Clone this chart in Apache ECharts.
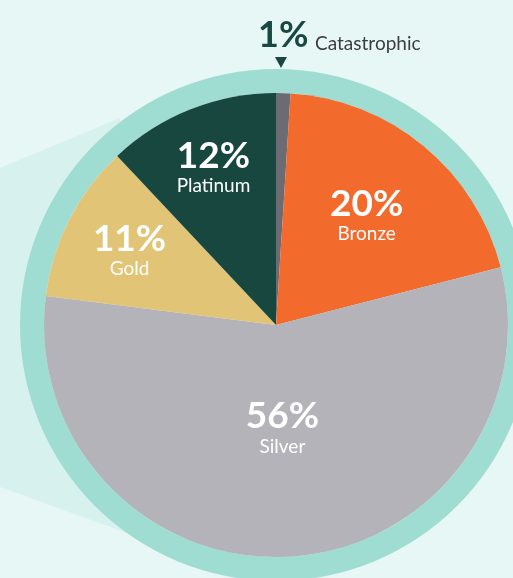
<!DOCTYPE html>
<html>
<head>
<meta charset="utf-8">
<script src="https://cdn.jsdelivr.net/npm/echarts@6/dist/echarts.min.js"></script>
<style>
  html, body { margin: 0; padding: 0; background: #e7f7f6; }
  #chart { width: 513px; height: 578px; }
</style>
</head>
<body>
<div id="chart"></div>
<script>
// tiers, clockwise from 12 o'clock
const categories = ['Catastrophic', 'Bronze', 'Silver', 'Gold', 'Platinum'];
const shares = [1, 20, 56, 11, 12];
const colors = ['#6c6a72', '#f26a2c', '#b4b3ba', '#e2c477', '#17473f'];
// how far out each inside label sits, as a fraction of the radius
const labelReach = [null, 0.615, 0.44, 0.71, 0.735];

const CX = 276, CY = 325, R = 232, RING = 256;

const chart = echarts.init(document.getElementById('chart'));

const data = categories.map((name, i) => {
  const item = { name: name, value: shares[i], itemStyle: { color: colors[i] } };
  if (i === 0) {
    item.label = {
      formatter: '{p|{c}%}  {n|{b}}',
      rich: {
        p: { fontSize: 36, fontWeight: 'bold', color: '#174842', fontFamily: 'Lato', verticalAlign: 'bottom', lineHeight: 40 },
        n: { fontSize: 19, color: '#3c3b43', fontFamily: 'Lato', verticalAlign: 'bottom', lineHeight: 32 }
      }
    };
  }
  return item;
});

const option = {
  backgroundColor: '#e7f7f6',
  animation: false,
  graphic: [
    {
      // pale shadow band falling to the left of the dial
      type: 'polygon',
      z: -10,
      shape: { points: [[0, 168], [120, 118], [160, 545], [0, 487]] },
      style: { fill: '#d7f1ef' }
    },
    {
      // pointer above the catastrophic sliver
      type: 'polygon',
      z: 10,
      shape: { points: [[CX - 1, CY - R - 36], [CX + 11, CY - R - 36], [CX + 5, CY - R - 25]] },
      style: { fill: '#174842' }
    }
  ],
  series: [
    {
      type: 'pie',
      silent: true,
      center: [CX, CY],
      radius: [R, RING],
      label: { show: false },
      labelLine: { show: false },
      itemStyle: { color: '#9fdcd2' },
      data: [1]
    },
    {
      type: 'pie',
      center: [CX, CY],
      radius: [0, R],
      startAngle: 90,
      clockwise: true,
      itemStyle: { borderWidth: 0 },
      labelLine: { show: false },
      label: {
        show: true,
        position: 'inside',
        formatter: '{p|{c}%}\n{n|{b}}',
        rich: {
          p: { fontSize: 37, fontWeight: 'bold', color: '#ffffff', fontFamily: 'Lato', lineHeight: 38, align: 'center' },
          n: { fontSize: 19, color: '#ffffff', fontFamily: 'Lato', lineHeight: 22, align: 'center' }
        }
      },
      labelLayout: function (p) {
        const i = p.dataIndex;
        if (i === 0) {
          return { x: CX - 18, y: CY - R - 80, align: 'left', verticalAlign: 'top' };
        }
        const lr = p.labelRect;
        const lx = lr.x + lr.width / 2;
        const ly = lr.y + lr.height / 2;
        const ang = Math.atan2(ly - CY, lx - CX);
        const d = labelReach[i] * R;
        return { dx: CX + d * Math.cos(ang) - lx, dy: CY + d * Math.sin(ang) - ly };
      },
      data: data
    }
  ]
};

chart.setOption(option);

window.addEventListener('resize', () => {
  chart.resize();
});
</script>
</body>
</html>
